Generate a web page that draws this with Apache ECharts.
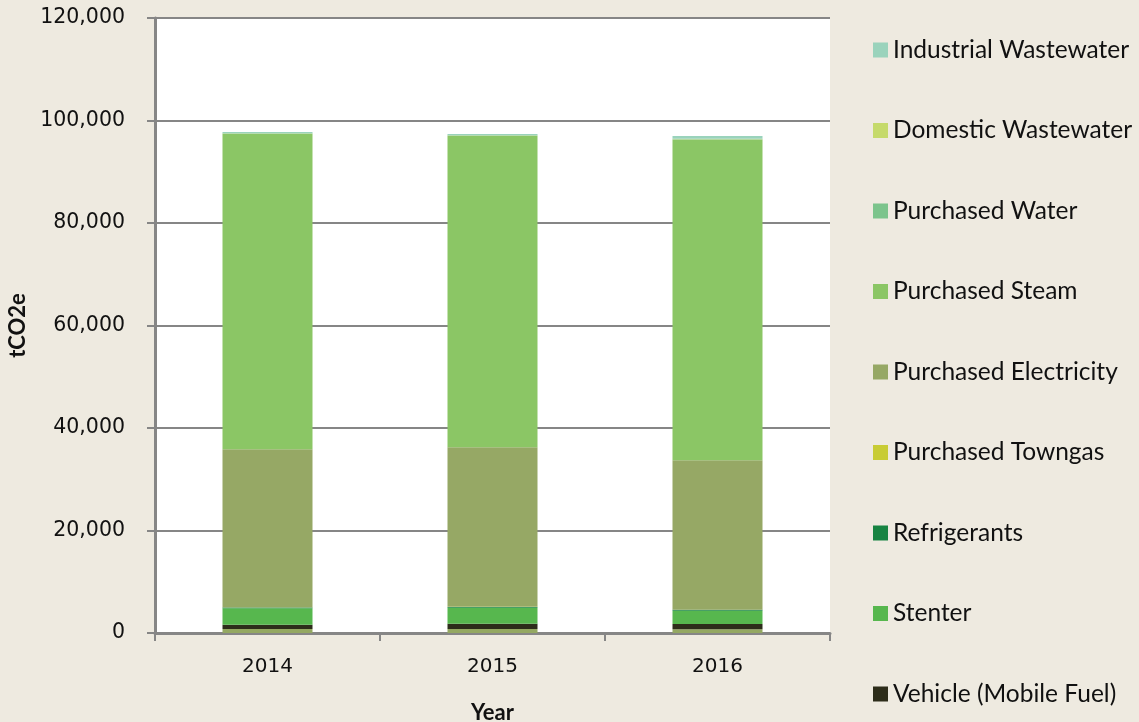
<!DOCTYPE html>
<html>
<head>
<meta charset="utf-8">
<script src="https://cdn.jsdelivr.net/npm/echarts@6/dist/echarts.min.js"></script>
<style>
  html, body { margin: 0; padding: 0; background: #eeeae0; }
  #chart { width: 1139px; height: 722px; }
</style>
</head>
<body>
<div id="chart"></div>
<script>
// years on the x axis
const years = ['2014', '2015', '2016'];

// stacked series, bottom to top (tCO2e)
const stationaryFuel = [780, 780, 720];
const vehicleFuel = [840, 1030, 1040];
const stenter = [3200, 3120, 2590];
const refrigerants = [150, 160, 190];
const towngas = [20, 20, 20];
const electricity = [30860, 31120, 29130];
const steam = [61520, 60740, 62550];
const water = [80, 80, 100];
const domesticWw = [60, 60, 80];
const industrialWw = [250, 250, 540];

const seriesDefs = [
  { name: 'Other Fuel', data: stationaryFuel, color: '#94a862', legend: false },
  { name: 'Vehicle (Mobile Fuel)', data: vehicleFuel, color: '#2d2d1a' },
  { name: 'Stenter', data: stenter, color: '#57b74e' },
  { name: 'Refrigerants', data: refrigerants, color: '#178442' },
  { name: 'Purchased Towngas', data: towngas, color: '#c8cc35' },
  { name: 'Purchased Electricity', data: electricity, color: '#96a865' },
  { name: 'Purchased Steam', data: steam, color: '#8bc665' },
  { name: 'Purchased Water', data: water, color: '#7cc48c' },
  { name: 'Domestic Wastewater', data: domesticWw, color: '#c5da6b' },
  { name: 'Industrial Wastewater', data: industrialWw, color: '#9ad3bc' }
];

const legendNames = seriesDefs.filter(s => s.legend !== false).map(s => s.name).reverse();

const chart = echarts.init(document.getElementById('chart'));
chart.setOption({
  backgroundColor: '#eeeae0',
  animation: false,
  grid: {
    left: 155, right: 309, top: 18, bottom: 89,
    outerBoundsMode: 'none',
    show: true, backgroundColor: '#ffffff', borderWidth: 0
  },
  legend: {
    data: legendNames,
    orient: 'vertical',
    left: 873, top: 37.5,
    padding: 0,
    itemWidth: 15, itemHeight: 15, itemGap: 55.5,
    icon: 'rect',
    textStyle: { fontFamily: 'Lato', fontSize: 24.5, lineHeight: 25, color: '#111' }
  },
  xAxis: {
    type: 'category',
    data: years,
    name: 'Year',
    nameLocation: 'middle',
    nameGap: 69,
    nameTextStyle: { fontFamily: 'Lato', fontWeight: 'bold', fontSize: 22, color: '#111' },
    axisLine: { lineStyle: { color: '#868686', width: 3 } },
    axisTick: { show: true, length: 8, lineStyle: { color: '#868686', width: 2 } },
    axisLabel: { fontFamily: 'DejaVu Sans', fontSize: 20, color: '#111', margin: 24 }
  },
  yAxis: {
    type: 'value',
    min: 0, max: 120000, interval: 20000,
    name: 'tCO2e',
    nameLocation: 'middle',
    nameGap: 118,
    nameTextStyle: { fontFamily: 'Lato', fontWeight: 'bold', fontSize: 22, color: '#111' },
    axisLine: { show: true, lineStyle: { color: '#868686', width: 3 } },
    axisTick: { show: true, length: 8, lineStyle: { color: '#868686', width: 2 } },
    splitLine: { lineStyle: { color: '#868686', width: 2 } },
    axisLabel: {
      fontFamily: 'DejaVu Sans', fontSize: 20.5, color: '#111', margin: 30,
      formatter: v => v.toLocaleString('en-US')
    }
  },
  series: seriesDefs.map(s => ({
    name: s.name,
    type: 'bar',
    stack: 'total',
    barWidth: '40%',
    data: s.data,
    itemStyle: { color: s.color }
  }))
});
</script>
</body>
</html>
